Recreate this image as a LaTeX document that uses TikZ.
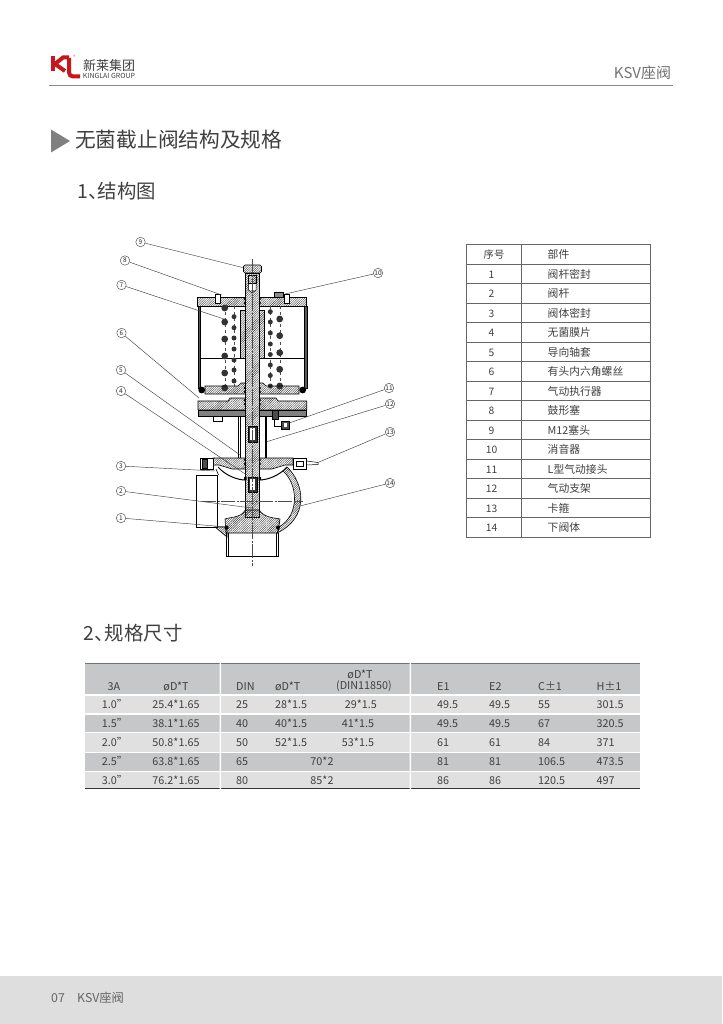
\documentclass[tikz,border=0pt]{standalone}
\usepackage{fontspec}
\setmainfont{Noto Sans CJK SC}
\usetikzlibrary{patterns.meta}
\definecolor{txtgray}{HTML}{404040}
\definecolor{klred}{HTML}{C8161D}
\definecolor{headgray}{HTML}{C5C7C8}
\definecolor{rowgray}{HTML}{DFE0DF}
\tikzset{
  hatch/.style={draw=black, line width=.6pt, pattern={Lines[angle=45,distance=1.6pt,line width=.4pt]}, pattern color=black!80},
  num/.style={circle, draw=black!70, line width=.45pt, inner sep=0pt, minimum size=9.5pt, text=black!85, font=\fontsize{6.5}{7}\selectfont},
  leader/.style={draw=black!75, line width=.45pt},
  axisline/.style={draw=black!70, line width=.3pt, dash pattern=on 14pt off 1.5pt on 2pt off 1.5pt},
  cell/.style={text=txtgray, inner sep=0pt, text height=8pt, text depth=1pt, font=\fontsize{10.3}{11}\selectfont},
  part/.style={text=txtgray, inner sep=0pt, text height=8pt, text depth=1pt, font=\fontsize{10.8}{12}\selectfont},
  spec/.style={text=txtgray, inner sep=0pt, text height=7.6pt, text depth=0pt, font=\fontsize{10.8}{12}\selectfont}
}
\begin{document}
\begin{tikzpicture}[x=1pt,y=-1pt]
  \useasboundingbox (0,0) rectangle (722,1024);
  \fill[white] (0,0) rectangle (722,1024);
  % page head
  \draw[line width=4.6pt, klred] (53,56) -- (53,71);
  \draw[line width=4pt, klred] (55,64) -- (63,57.5) -- (69,57.5) (55,64) -- (65,71);
  \draw[line width=4pt, klred, rounded corners=4pt] (69,58) -- (69,76.5) -- (80,76.5);
  \node[inner sep=0pt, text=klred, font=\fontsize{4}{4}\selectfont] (regmark) at (74.3,56.5) {®};
  \node[inner sep=0pt, text=txtgray, font=\fontsize{13}{14}\selectfont] (brand) at (109,66) {新莱集团};
  \node[inner sep=0pt, text=txtgray, font=\fontsize{7}{8}\selectfont] (brandlat) at (109,76) {KINGLAI GROUP};
  \node[inner sep=0pt, text=black!55, font=\fontsize{15}{16}\selectfont] (series) at (642.5,73) {KSV座阀};
  \draw[black!45, line width=.7pt] (49,85) -- (673,85);
  % headings
  \fill[black!50] (51,129.5) -- (70,141) -- (51,152.5) -- cycle;
  \node[anchor=west, inner sep=0pt, text=txtgray, font=\fontsize{20.7}{22}\selectfont] (title) at (75,139.5) {无菌截止阀结构及规格};
  \node[anchor=west, inner sep=0pt, text=txtgray, font=\fontsize{19.4}{21}\selectfont] (headA) at (77.5,191) {1、\kern-10pt 结构图};
  \node[anchor=west, inner sep=0pt, text=txtgray, font=\fontsize{19.4}{21}\selectfont] (headB) at (83.5,633) {2、\kern-9pt 规格尺寸};
  % actuator
  \filldraw[hatch, rounded corners=1.5pt] (243.5,265) -- (261.5,265) -- (261.5,273) -- (243.5,273) -- cycle;
  \filldraw[hatch] (245.3,273) rectangle (259.3,517);
  \fill[white] (248.5,275) rectangle (256,290);
  \draw[line width=.5pt] (248.5,275) -- (248.5,290) -- (252,293) -- (256,290) -- (256,275);
  \filldraw[hatch] (248.5,275) rectangle (256,283);
  \filldraw[hatch] (197.7,297.3) rectangle (245.3,306);
  \filldraw[hatch] (259.3,297.3) rectangle (306.7,306);
  \filldraw[fill=black!65, draw=black, line width=.4pt] (197.7,306) rectangle (200.5,388);
  \filldraw[fill=black!65, draw=black, line width=.4pt] (304,306) rectangle (306.7,388);
  \draw[line width=.9pt] (200.5,358.3) -- (245.3,358.3) (259.3,358.3) -- (304,358.3);
  \filldraw[hatch] (240.7,310) rectangle (245.3,358.3);
  \filldraw[hatch] (259.3,310) rectangle (264,358.3);
  % spring sections
  \draw[black!70, dashed, line width=.4pt] (224.7,306) -- (224.7,388) (234,306) -- (234,386) (270.3,306) -- (270.3,386) (279.7,306) -- (279.7,388);
  \foreach \yy in {308,322,339,356,373,388} \fill[black!80] (224.7,\yy) circle[radius=3.4];
  \foreach \yy in {316.7,327.7,338,349,360,370,381} \fill[black!80] (234,\yy) circle[radius=2.5];
  \foreach \yy in {311.7,322,333,344,354.5,365,375.5,386} \fill[black!80] (270.3,\yy) circle[radius=2.5];
  \foreach \yy in {319,335.7,352.7,369.3,386} \fill[black!80] (279.7,\yy) circle[radius=3.4];
  % piston and lower flange
  \filldraw[hatch] (205,386) -- (238,386) -- (241,383) -- (245.3,383) -- (245.3,394) -- (205,394) -- cycle;
  \filldraw[hatch] (259.3,383) -- (263,383) -- (266,386) -- (299,386) -- (299,394) -- (259.3,394) -- cycle;
  \foreach \xx in {201.7,302.7} \fill[black] (\xx,390) circle[radius=3.4];
  \filldraw[hatch] (198,401) -- (228,401) -- (230,398) -- (245.3,398) -- (245.3,410) -- (198,410) -- cycle;
  \filldraw[hatch] (259.3,398) -- (276,398) -- (278,401) -- (306.7,401) -- (306.7,410) -- (259.3,410) -- cycle;
  \filldraw[fill=black!50, draw=black, line width=.5pt] (198,410) rectangle (245.3,416);
  \filldraw[fill=black!50, draw=black, line width=.5pt] (259.3,410) rectangle (306.7,416);
  \draw[line width=.5pt, fill=white] (213,416) rectangle (222,421);
  % stem seals
  \foreach \yy in {299,303,388,392,400,404,460,464} {\fill[black] (244.8,\yy) circle[radius=1.3] (259.8,\yy) circle[radius=1.3];}
  % air fitting
  \filldraw[fill=black!70, draw=black, line width=.4pt] (272,410) rectangle (278,419);
  \draw[line width=.6pt] (274,419) -- (274,426) -- (281,426);
  \filldraw[fill=black!70, draw=black, line width=.4pt] (281,421) rectangle (289,429);
  \fill[white] (283.5,423) rectangle (286.5,427);
  % silencer and plugs on top
  \filldraw[fill=black!45, draw=black, line width=.4pt] (274.5,292.5) rectangle (283,297.3);
  \foreach \xx in {217.5,287} {\draw[line width=.5pt, fill=white] (\xx-2.5,294.5) rectangle (\xx+2.5,303);}
  % yoke
  \draw[line width=.6pt] (238.5,416) -- (238.5,458) (240,416) -- (240,458) (265,416) -- (265,458) (266.7,416) -- (266.7,458);
  % inner bolts on stem
  \filldraw[fill=black!80, draw=black, line width=.3pt] (248,426) rectangle (257,442);
  \fill[white] (250,428) rectangle (255,440);
  \filldraw[fill=black!80, draw=black, line width=.3pt] (248,477) rectangle (257,492);
  \fill[white] (250,479) rectangle (255,490);
  % clamp flange
  \filldraw[hatch] (213,458) -- (245.3,458) -- (245.3,469) -- (232,469) -- (219,465) -- (213,465) -- cycle;
  \filldraw[hatch] (259.3,458) -- (293,458) -- (293,465) -- (285,465) -- (272,469) -- (259.3,469) -- cycle;
  \draw[line width=.7pt, fill=white] (200,458.5) rectangle (213,469);
  \filldraw[fill=black!70, draw=black, line width=.4pt] (202,459) rectangle (207,468.5);
  \draw[line width=.7pt, fill=white] (293,458.5) rectangle (306.5,469);
  \draw[line width=.7pt] (296,461.5) rectangle (303,466);
  \draw[line width=.5pt] (306.5,461) -- (318,462.5) -- (318,464.5) -- (306.5,465);
  % diaphragm
  \draw[line width=1pt] (218,467) .. controls (226,476) and (238,480) .. (245.3,480) (259.3,480) .. controls (267,480) and (279,476) .. (287,467);
  \fill[black] (244,477) rectangle (246.5,480) (258.5,477) rectangle (261,480);
  % valve body
  \draw[line width=.6pt] (216,469) -- (218.5,475);
  \filldraw[hatch] (287,467) .. controls (305,484) and (309,518) .. (277,533) -- (279,527) .. controls (300,515) and (298,484) .. (283,471) -- cycle;
  \draw[line width=.9pt] (196.7,475) rectangle (217.3,527);
  \filldraw[hatch] (215,527) -- (227,527) -- (227,537) -- cycle;
  \filldraw[hatch] (225,519) -- (226,533) -- (278,533) -- (280,519) .. controls (276,518) and (264,518) .. (259.3,510) -- (245.3,510) .. controls (241,518) and (230,517) .. (225,519) -- cycle;
  \fill[black] (226.5,527.5) circle[radius=2] (278,527.5) circle[radius=2];
  \draw[line width=.9pt] (226,533) -- (226,556.5) -- (278.5,556.5) -- (278.5,533);
  \draw[line width=.9pt] (228.5,533) -- (228.5,556.5) (276,533) -- (276,556.5);
  % center lines
  \draw[axisline] (252.5,259) -- (252.5,566);
  \draw[axisline] (202,501) -- (303,501);
  % leaders and numbers
  \foreach \n/\nx/\ny/\ex/\ey in {1/121/518/226.7/527,2/121/491/251.7/508,3/121/466/215/471,4/121/391/246.7/475,5/121/370/240/455,6/121.5/333/199/398,7/121.5/285/224/319,8/125/260.5/221.7/295,9/140.5/242/243.3/267.7,10/378/273/285/294,11/389/388/290/422.7,12/390/404/266.7/441.7,13/390/432/316.7/463,14/390/483/300/506} {
    \node[num] (no\n) at (\nx,\ny) {\n};
    \coordinate (end\n) at (\ex,\ey);
    \draw[leader] (no\n) -- (end\n);
  }
  % parts list
  \draw[black!60, line width=.5pt] (466.5,244.5) rectangle (650,537);
  \draw[black!60, line width=.5pt] (521,244.5) -- (521,537);
  \foreach \i in {1,...,14} \draw[black!60, line width=.4pt] (466.5,244.5+\i*19.5) -- (650,244.5+\i*19.5);
  \node[cell] (parthead) at (494,255) {序号};
  \node[part, anchor=west] (partname) at (547.5,255) {部件};
  \foreach \i/\t in {1/阀杆密封,2/阀杆,3/阀体密封,4/无菌膜片,5/导向轴套,6/有头内六角螺丝,7/气动执行器,8/鼓形塞,9/M12塞头,10/消音器,11/L型气动接头,12/气动支架,13/卡箍,14/下阀体} {
    \node[cell] (idx\i) at (491.5,255+\i*19.5) {\i};
    \node[part, anchor=west] (name\i) at (547.5,255+\i*19.5) {\t};
  }
  % size table
  \fill[headgray] (85,663.3) rectangle (640,694.3);
  \fill[rowgray] (85,695.5) rectangle (640,713);
  \fill[headgray] (85,714.5) rectangle (640,732);
  \fill[rowgray] (85,733) rectangle (640,751.7);
  \fill[headgray] (85,752.7) rectangle (640,770.7);
  \fill[rowgray] (85,771.7) rectangle (640,788.3);
  \draw[black!55, line width=.6pt] (85,663.3) -- (640,663.3);
  \draw[black!80, line width=.7pt] (85,788.8) -- (640,788.8);
  \fill[white] (219.5,663) rectangle (221,789) (409.5,663) rectangle (411,789);
  \node[spec] (h1) at (114,686.7) {3A};
  \node[spec] (h2) at (176,686.7) {øD*T};
  \node[spec, anchor=west] (h3) at (236,686.7) {DIN};
  \node[spec, anchor=west] (h4) at (275,686.7) {øD*T};
  \node[spec] (h5) at (360,674.3) {øD*T};
  \node[spec] (h6) at (364,686) {(DIN11850)};
  \node[spec, anchor=west] (h7) at (437,686.7) {E1};
  \node[spec, anchor=west] (h8) at (489,686.7) {E2};
  \node[spec, anchor=west] (h9) at (538,686.7) {C±1};
  \node[spec, anchor=west] (h10) at (596.5,686.7) {H±1};
  \foreach \r/\yy/\sa/\sb/\din/\ea/\eb/\cc/\hh in {1/705/1.0"/25.4*1.65/25/49.5/49.5/55/301.5,2/724/1.5"/38.1*1.65/40/49.5/49.5/67/320.5,3/743/2.0"/50.8*1.65/50/61/61/84/371,4/762/2.5"/63.8*1.65/65/81/81/106.5/473.5,5/780.7/3.0"/76.2*1.65/80/86/86/120.5/497} {
    \node[spec] (a\r) at (114.7,\yy) {\sa};
    \node[spec] (b\r) at (176,\yy) {\sb};
    \node[spec, anchor=west] (din\r) at (236,\yy) {\din};
    \node[spec, anchor=west] (e\r) at (437,\yy) {\ea};
    \node[spec, anchor=west] (f\r) at (489,\yy) {\eb};
    \node[spec, anchor=west] (c\r) at (538,\yy) {\cc};
    \node[spec, anchor=west] (k\r) at (596.5,\yy) {\hh};
  }
  \node[spec, anchor=west] (d1) at (275,705) {28*1.5};
  \node[spec, anchor=west] (d2) at (275,724) {40*1.5};
  \node[spec, anchor=west] (d3) at (275,743) {52*1.5};
  \node[spec] (g1) at (360.8,705) {29*1.5};
  \node[spec] (g2) at (358,724) {41*1.5};
  \node[spec] (g3) at (358,743) {53*1.5};
  \node[spec] (d4) at (322,762) {70*2};
  \node[spec] (d5) at (322,780.7) {85*2};
  % page foot
  \fill[black!13] (0,976) rectangle (722,1024);
  \node[anchor=west, inner sep=0pt, text=black!60, font=\fontsize{12.3}{14}\selectfont] (pageno) at (51,998) {07};
  \node[anchor=west, inner sep=0pt, text=black!60, font=\fontsize{12.3}{14}\selectfont] (footname) at (77,998) {KSV座阀};
\end{tikzpicture}
\end{document}
